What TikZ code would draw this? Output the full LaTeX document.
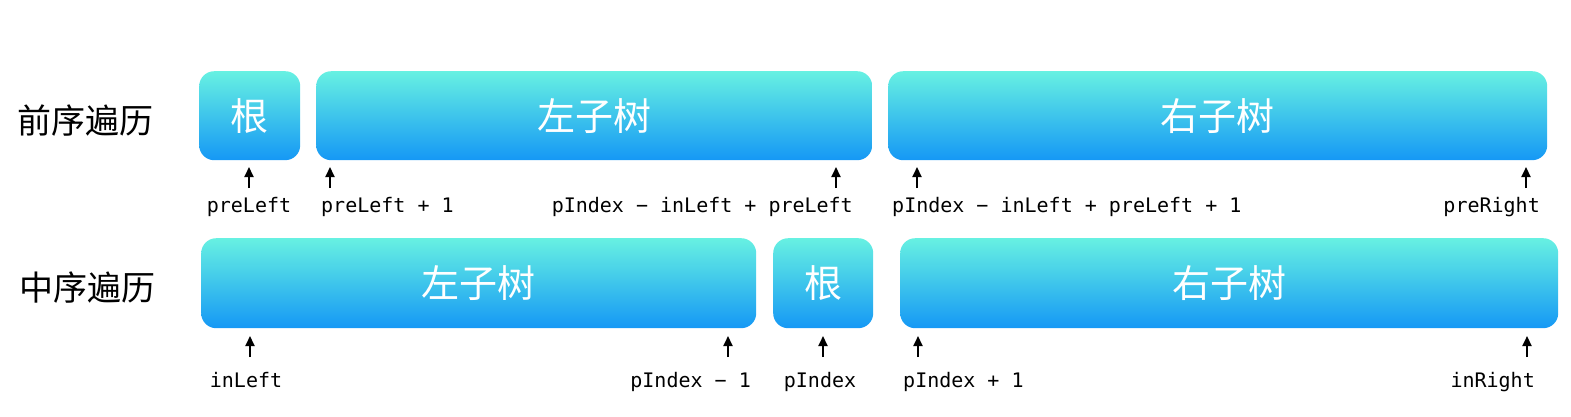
\documentclass[tikz,border=0pt]{standalone}
\usepackage{fontspec}
\setmonofont{DejaVu Sans Mono}
\newfontfamily\cjk{Noto Sans CJK SC}
\usetikzlibrary{arrows.meta}
\definecolor{topc}{HTML}{67F1E2}
\definecolor{botc}{HTML}{1598F5}
\tikzset{
  box/.style={rounded corners=15pt, top color=topc, bottom color=botc, draw=none,
    inner sep=0pt, anchor=north west, text=white, font=\cjk\fontsize{38}{38}\selectfont},
  lbl/.style={font=\ttfamily\fontsize{20}{20}\selectfont, inner sep=0pt, anchor=base},
  rowlbl/.style={font=\cjk\fontsize{34}{34}\selectfont, inner sep=0pt, anchor=west},
  arr/.style={-{Triangle[width=9pt,length=10pt]}, line width=2pt, black}
}
\begin{document}
\begin{tikzpicture}[x=1pt,y=-1pt]
\useasboundingbox (0,0) rectangle (1571,416);
% row labels
\node[rowlbl] (pre) at (17,121) {前序遍历};
\node[rowlbl] (in) at (19,288) {中序遍历};
% preorder boxes
\node[box, minimum width=101pt, minimum height=89pt] (proot) at (199,71) {根};
\node[box, minimum width=556pt, minimum height=89pt] (pleft) at (316,71) {左子树};
\node[box, minimum width=659pt, minimum height=89pt] (pright) at (888,71) {右子树};
% inorder boxes
\node[box, minimum width=555pt, minimum height=90pt] (ileft) at (201,238) {左子树};
\node[box, minimum width=100pt, minimum height=90pt] (iroot) at (773,238) {根};
\node[box, minimum width=658pt, minimum height=90pt] (iright) at (900,238) {右子树};
% preorder labels
\node[lbl] (l1) at (249,212) {preLeft};
\node[lbl, anchor=base west] (l2) at (321,212) {preLeft + 1};
\node[lbl, anchor=base east] (l3) at (853,212) {pIndex − inLeft + preLeft};
\node[lbl, anchor=base west] (l4) at (892,212) {pIndex − inLeft + preLeft + 1};
\node[lbl, anchor=base east] (l5) at (1540,212) {preRight};
% inorder labels
\node[lbl] (m1) at (246,387) {inLeft};
\node[lbl, anchor=base east] (m2) at (751,387) {pIndex − 1};
\node[lbl] (m3) at (820,387) {pIndex};
\node[lbl, anchor=base west] (m4) at (903,387) {pIndex + 1};
\node[lbl, anchor=base east] (m5) at (1535,387) {inRight};
% arrow coordinates (preorder)
\foreach \n/\x in {a1/249,a2/330,a3/836,a4/917,a5/1526}{
  \coordinate (\n s) at (\x,188);
  \coordinate (\n e) at (\x,167);
}
\foreach \n/\x in {b1/250,b2/728,b3/823,b4/918,b5/1527}{
  \coordinate (\n s) at (\x,357);
  \coordinate (\n e) at (\x,336);
}
\foreach \n in {a1,a2,a3,a4,a5,b1,b2,b3,b4,b5}{
  \draw[arr] (\n s) -- (\n e);
}
\end{tikzpicture}
\end{document}
